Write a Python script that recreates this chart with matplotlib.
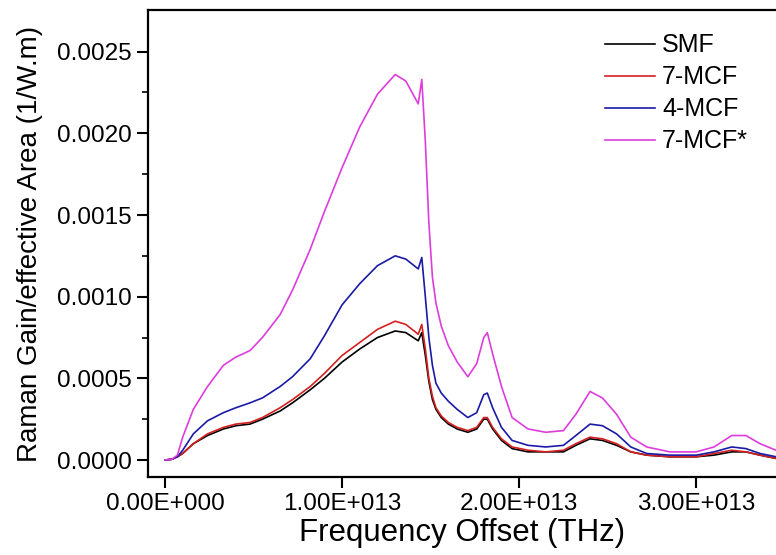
import numpy as np
import matplotlib.pyplot as plt

plt.rcParams['font.family'] = ['Liberation Sans', 'DejaVu Sans']

# frequency offset in units of 1e13 Hz
freq = [0, 0.04, 0.07, 0.1, 0.16, 0.24, 0.33, 0.4, 0.48, 0.55, 0.65, 0.72, 0.82,
        0.9, 1.0, 1.1, 1.2, 1.3, 1.36, 1.43, 1.45, 1.47, 1.49, 1.51, 1.53, 1.56,
        1.6, 1.65, 1.71, 1.76, 1.8, 1.82, 1.85, 1.9, 1.96, 2.05, 2.15, 2.25, 2.32,
        2.4, 2.47, 2.55, 2.63, 2.72, 2.85, 3.0, 3.1, 3.2, 3.28, 3.36, 3.45]

smf = [0, 0.000005, 0.00002, 0.00004, 0.00010, 0.00015, 0.00019, 0.00021, 0.00022,
       0.00025, 0.00030, 0.00035, 0.00043, 0.00050, 0.00060, 0.00068, 0.00075,
       0.00079, 0.00078, 0.00073, 0.00078, 0.00064, 0.00048, 0.00037, 0.00031,
       0.00026, 0.00022, 0.00019, 0.00017, 0.00019, 0.00025, 0.00025, 0.00019,
       0.00012, 0.00007, 0.00005, 0.00005, 0.00005, 0.00009, 0.00013, 0.00012,
       0.00009, 0.00005, 0.00003, 0.00002, 0.00002, 0.00003, 0.00005, 0.00005,
       0.00003, 0.00001]

mcf7 = [0, 0.000005, 0.00002, 0.00004, 0.00010, 0.00016, 0.00020, 0.00022, 0.00023,
        0.00026, 0.00032, 0.00037, 0.00045, 0.00053, 0.00064, 0.00072, 0.00080,
        0.00085, 0.00083, 0.00077, 0.00083, 0.00068, 0.00050, 0.00039, 0.00032,
        0.00027, 0.00023, 0.00020, 0.00018, 0.00020, 0.00026, 0.00026, 0.00020,
        0.00013, 0.00008, 0.00006, 0.00005, 0.00006, 0.00010, 0.00014, 0.00013,
        0.00010, 0.00005, 0.00003, 0.00002, 0.00002, 0.00004, 0.00006, 0.00005,
        0.00003, 0.00001]

mcf4 = [0, 0.000005, 0.00002, 0.00006, 0.00016, 0.00024, 0.00029, 0.00032, 0.00035,
        0.00038, 0.00045, 0.00051, 0.00062, 0.00076, 0.00095, 0.00108, 0.00119,
        0.00125, 0.00123, 0.00117, 0.00124, 0.00100, 0.00075, 0.00058, 0.00047,
        0.00041, 0.00036, 0.00031, 0.00026, 0.00029, 0.00040, 0.00041, 0.00032,
        0.00020, 0.00012, 0.00009, 0.00008, 0.00009, 0.00015, 0.00022, 0.00021,
        0.00016, 0.00008, 0.00004, 0.00003, 0.00003, 0.00005, 0.00008, 0.00007,
        0.00004, 0.00002]

mcf7s = [0, 0.000005, 0.00003, 0.00014, 0.00031, 0.00045, 0.00058, 0.00063, 0.00067,
         0.00075, 0.00089, 0.00104, 0.00129, 0.00152, 0.00179, 0.00204, 0.00224,
         0.00236, 0.00232, 0.00218, 0.00233, 0.00195, 0.00145, 0.00112, 0.00096,
         0.00082, 0.00070, 0.00060, 0.00051, 0.00059, 0.00075, 0.00078, 0.00065,
         0.00045, 0.00026, 0.00019, 0.00017, 0.00018, 0.00028, 0.00042, 0.00038,
         0.00028, 0.00014, 0.00008, 0.00005, 0.00005, 0.00008, 0.00015, 0.00015,
         0.00010, 0.00006]

x = np.array(freq) * 1e13

fig = plt.figure(figsize=(7.76, 5.55), dpi=100)
ax = fig.add_axes([0.1907, 0.1405, 0.8093, 0.8415])

ax.plot(x, smf, color='black', lw=1.2, label='SMF')
ax.plot(x, mcf7, color='#d42020', lw=1.2, label='7-MCF')
ax.plot(x, mcf4, color='#1a1aa6', lw=1.2, label='4-MCF')
ax.plot(x, mcf7s, color='#dd3ddd', lw=1.2, label='7-MCF*')

ax.set_xlim(-0.096e13, 3.45e13)
ax.set_ylim(-0.000104, 0.002755)
ax.set_xticks([0, 1e13, 2e13, 3e13])
ax.set_xticklabels(['0.00E+000', '1.00E+013', '2.00E+013', '3.00E+013'])
ax.set_yticks([0, 0.0005, 0.001, 0.0015, 0.002, 0.0025])
ax.set_yticklabels(['0.0000', '0.0005', '0.0010', '0.0015', '0.0020', '0.0025'])
ax.set_yticks(np.arange(0.00025, 0.0027, 0.0005), minor=True)

ax.tick_params(axis='both', which='major', direction='out', length=8, width=1.5,
               labelsize=17.5)
ax.tick_params(axis='y', which='minor', direction='out', length=4, width=1.2)
for s in ['left', 'bottom', 'top']:
    ax.spines[s].set_linewidth(1.6)
ax.spines['right'].set_visible(False)

ax.set_xlabel('Frequency Offset (THz)', fontsize=22.5, labelpad=2)
ax.set_ylabel('Raman Gain/effective Area (1/W.m)', fontsize=20, labelpad=10)

ax.legend(loc='upper left', bbox_to_anchor=(0.728, 0.95), frameon=False,
          fontsize=18, handlelength=2.0, handletextpad=0.28, labelspacing=0.32,
          borderpad=0, borderaxespad=0)

fig.savefig('out.png', dpi=100)
